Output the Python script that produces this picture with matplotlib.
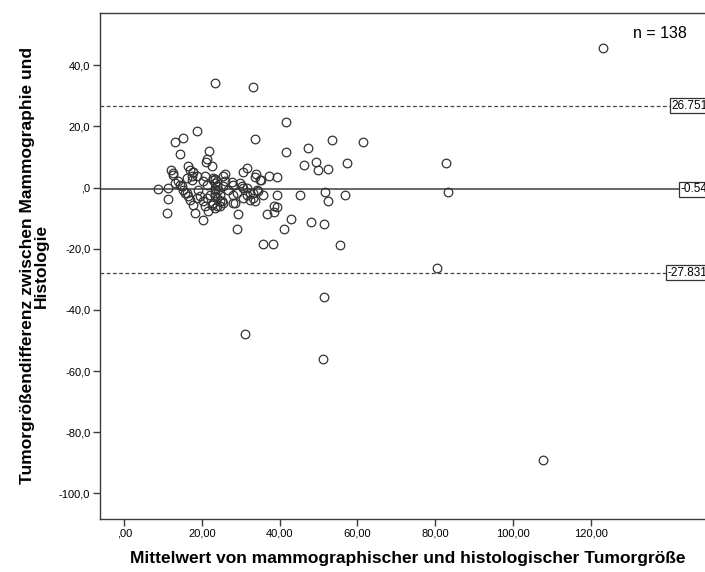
import matplotlib
matplotlib.use("Agg")
import matplotlib.pyplot as plt

plt.rcParams['font.family'] = ['Liberation Sans', 'DejaVu Sans']

# ---------------------------------------------------------------------------
# Data
# ---------------------------------------------------------------------------
mean_size = [
    # sparse / outer points
    123.1, 23.3, 33.1, 41.7, 18.8, 33.6, 15.2, 13.1, 61.4, 53.4,
    47.2, 41.7, 14.3, 21.9, 21.2, 21.0, 46.3, 49.3, 49.9, 52.5,
    57.2, 82.8, 83.3, 80.5, 107.8, 51.3, 51.1, 31.1, 35.8, 38.2,
    55.4, 28.9, 41.1, 42.8, 48.1, 51.3, 36.7, 38.4, 38.4, 39.2,
    39.3, 45.2, 51.7, 52.3, 56.9, 37.3, 39.3, 35.2, 33.8, 33.6,
    31.5, 30.6, 29.3, 10.9, 11.3, 8.7, 11.3,
    # main cluster
    12.0, 12.5, 16.5, 16.9, 17.6, 20.8, 22.5, 25.9, 25.5, 28.1,
    28.5, 20.8, 21.6, 18.2, 20.2, 23.8, 16.5, 19.5, 13.1, 13.9,
    14.8, 15.2, 15.6, 27.6, 29.8, 23.3, 23.3, 23.9, 31.6, 34.1,
    33.2, 35.8, 30.2, 32.4, 33.6, 34.9, 22.9, 25.9, 25.5, 26.8,
    28.9, 30.6, 32.4, 23.3, 23.8, 24.6, 25.5, 28.1,
    19.0, 18.6, 21.2, 22.1, 23.3, 22.9, 16.9, 17.8, 17.3, 17.8,
    14.3, 16.1, 20.3, 23.3, 12.6, 16.1, 17.3, 18.6, 20.3, 21.2,
    22.9, 23.8, 24.2, 24.6, 23.3, 22.5, 25.1, 24.6, 28.1, 30.6,
    31.5, 33.2, 34.5,
]
size_diff = [
    45.7, 34.3, 32.8, 21.3, 18.4, 15.9, 16.3, 14.8, 14.9, 15.5,
    12.8, 11.5, 11.1, 12.1, 9.2, 8.5, 7.5, 8.5, 5.6, 6.0,
    8.1, 8.0, -1.5, -26.2, -89.1, -35.7, -56.0, -48.0, -18.3, -18.3,
    -18.8, -13.7, -13.6, -10.4, -11.3, -11.9, -8.8, -8.1, -5.9, -6.4,
    -2.5, -2.5, -1.4, -4.5, -2.5, 3.9, 3.5, 2.5, 4.5, 3.5,
    6.3, 5.0, -8.5, -8.3, -3.7, -0.4, -0.1,
    5.7, 4.8, 7.2, 5.9, 5.0, 3.7, 7.0, 4.5, 3.7, -2.3,
    -5.0, -5.9, -7.7, -8.3, -10.7, -6.1, -2.8, -2.8, 1.5, 2.1,
    0.4, -0.7, -1.7, 1.7, 1.5, 2.8, 1.5, 0.4, -0.1, -0.7,
    -3.4, -2.3, 0.4, -3.9, -4.5, 2.6, 2.6, 2.1, 0.4, -0.7,
    -1.7, -3.4, -1.7, -1.7, -3.4, -4.5, -5.0, -5.0,
    -0.7, -3.4, -3.4, -2.3, -0.7, -5.0, -3.9, -5.6, 3.7, 5.1,
    1.0, -1.7, -4.5, -6.6, 4.2, 3.2, 2.6, 3.7, 2.1, 1.0,
    3.2, 2.1, -0.7, -2.3, -2.8, -5.6, -4.5, -6.1, 1.0, -0.1,
    -2.3, -1.7, -1.2,
]

mean_diff = -0.54
upper_loa = 26.751
lower_loa = -27.831
ref_labels = ["26.751", "-0.54", "-27.831"]
n_cases = 138

x_ticks = [0, 20, 40, 60, 80, 100, 120]
x_tick_labels = [",00", "20,00", "40,00", "60,00", "80,00", "100,00", "120,00"]
y_ticks = [40, 20, 0, -20, -40, -60, -80, -100]
y_tick_labels = ["40,0", "20,0", ",0", "-20,0", "-40,0", "-60,0", "-80,0", "-100,0"]

x_label = "Mittelwert von mammographischer und histologischer Tumorgröße"
y_label = "Tumorgrößendifferenz zwischen Mammographie und\nHistologie"

# ---------------------------------------------------------------------------
# Figure
# ---------------------------------------------------------------------------
W, H = 705, 572
fig = plt.figure(figsize=(W / 100, H / 100), dpi=100)
ax = fig.add_axes([100 / W, 53 / H, 615 / W, 506 / H])

edge = "#3a3a3a"
ax.plot(mean_size, size_diff, "o", ms=6.2, mfc="none", mec="#333333",
        mew=0.9, zorder=3)

ax.axhline(mean_diff, color="#4d4d4d", lw=1.2, zorder=2)
ax.axhline(upper_loa, color="#444444", lw=0.9, ls=(0, (3, 2)), zorder=2)
ax.axhline(lower_loa, color="#444444", lw=0.9, ls=(0, (3, 2)), zorder=2)

# reference-line value boxes, cut by the right edge like in the original
for val, lab in zip([upper_loa, mean_diff, lower_loa], ref_labels):
    ax.text(150.0, val, lab, ha="right", va="center", fontsize=8.5,
            bbox=dict(boxstyle="square,pad=0.12", fc="white", ec="#333333", lw=0.9),
            zorder=4, clip_on=False)

fig.text(660 / W, 1 - 34 / H, f"n = {n_cases}", fontsize=11.5,
         ha="center", va="center")

ax.set_xlim(-6.25, 152)
ax.set_ylim(-108.4, 57.1)
ax.set_xticks(x_ticks)
ax.set_xticklabels(x_tick_labels)
ax.set_yticks(y_ticks)
ax.set_yticklabels(y_tick_labels)
ax.tick_params(direction="out", length=5, width=1, color=edge,
               labelsize=8, pad=2)

for sp in ax.spines.values():
    sp.set_color(edge)
    sp.set_linewidth(1)

ax.set_xlabel(x_label, fontsize=12.5, fontweight="bold", labelpad=9)
ax.set_ylabel(y_label, fontsize=12.5, fontweight="bold", labelpad=7,
              linespacing=0.95)

fig.savefig("out.png", dpi=100)
